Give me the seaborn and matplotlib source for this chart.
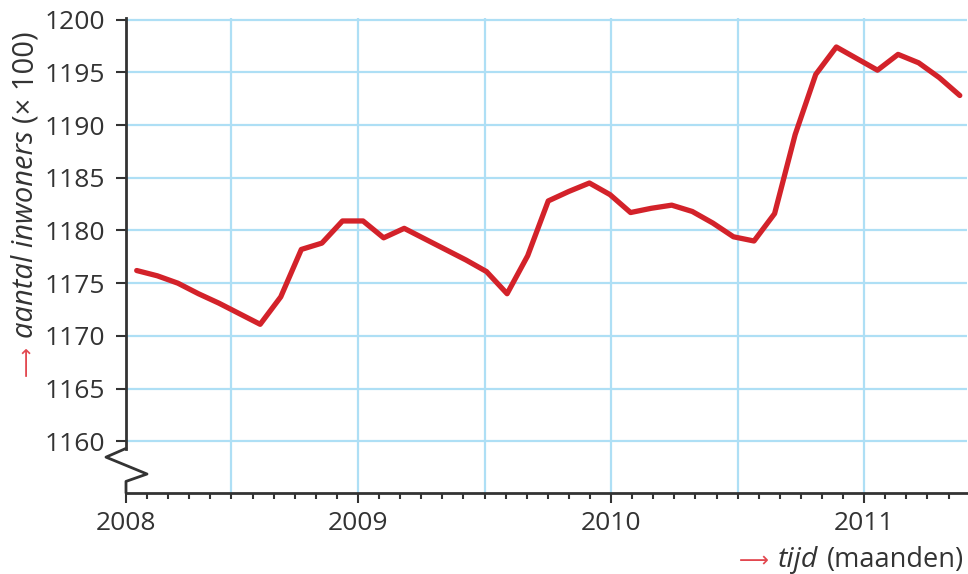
import numpy as np
import pandas as pd
import matplotlib
matplotlib.use("Agg")
import matplotlib.pyplot as plt
import matplotlib.transforms as mtransforms
import seaborn as sns

# -----------------------------
# DATA  (aantal inwoners x 100, per maand jan 2008 - mei 2011)
# -----------------------------
maand = np.arange(41)
inwoners = [1176.2, 1175.7, 1175.0, 1174.0, 1173.1, 1172.1, 1171.1, 1173.7, 1178.2, 1178.8,
            1180.9, 1180.9, 1179.3, 1180.2, 1179.2, 1178.2, 1177.2, 1176.1, 1174.0, 1177.6,
            1182.8, 1183.7, 1184.5, 1183.4, 1181.7, 1182.1, 1182.4, 1181.8, 1180.7, 1179.4,
            1179.0, 1181.6, 1189.1, 1194.8, 1197.4, 1196.3, 1195.2, 1196.7, 1195.9, 1194.5,
            1192.8]
jaren = ["2008", "2009", "2010", "2011"]
y_ticks = [1160, 1165, 1170, 1175, 1180, 1185, 1190, 1195, 1200]

df = pd.DataFrame({"maand": maand, "inwoners": inwoners})

# printed month ticks run a little wider than the data spacing
tick_x0 = -0.52
tick_step = 1.025
month_ticks = tick_x0 + tick_step * np.arange(40)
year_ticks = month_ticks[[0, 11, 23, 35]]
grid_x = month_ticks[[5, 11, 17, 23, 29, 35]]

# -----------------------------
# STYLE
# -----------------------------
sns.set_theme(style="white")
plt.rcParams['font.family'] = ['Open Sans', 'DejaVu Sans']

tekst_kleur = "#333333"
as_kleur = "#333333"
grid_kleur = "#aedff5"
lijn_kleur = "#d3222a"
pijl_kleur = "#e2474f"
fs = 19

fig = plt.figure(figsize=(9.68, 5.74), dpi=100)
ax = fig.add_axes([126 / 968, 81 / 574, 841 / 968, 475 / 574])

# gridlines
ax.set_yticks(y_ticks)
ax.yaxis.grid(True, color=grid_kleur, linewidth=1.6, zorder=0)
for gx in grid_x:
    ax.axvline(gx, color=grid_kleur, linewidth=1.6, zorder=0)

# line
sns.lineplot(data=df, x="maand", y="inwoners", color=lijn_kleur, linewidth=3.8, ax=ax, zorder=3)

ax.set_xlim(tick_x0, 40.35)
ax.set_ylim(1155.1, 1200.15)

ax.set_xticks(year_ticks)
ax.set_xticklabels(jaren)
ax.set_xticks(month_ticks, minor=True)
ax.set_xlabel("")
ax.set_ylabel("")

ax.tick_params(axis='y', which='major', direction='out', length=7, width=1.5, pad=8,
               color=as_kleur, labelcolor=tekst_kleur, labelsize=fs, left=True)
ax.tick_params(axis='x', which='major', direction='out', length=7, width=1.5, pad=6,
               color=as_kleur, labelcolor=tekst_kleur, labelsize=fs, bottom=True)
ax.tick_params(axis='x', which='minor', direction='out', length=4.5, width=1.5,
               color=as_kleur, bottom=True)

for s in ['top', 'right']:
    ax.spines[s].set_visible(False)
for s in ['left', 'bottom']:
    ax.spines[s].set_color(as_kleur)
    ax.spines[s].set_linewidth(2)
ax.spines['left'].set_bounds(1159.3, 1200.15)

# axis break (zigzag)
trans = mtransforms.blended_transform_factory(ax.transAxes, ax.transData)
ax.plot([0, -0.0238, 0.025, 0, 0], [1159.33, 1158.5, 1156.9, 1156.2, 1155.1],
        color=as_kleur, linewidth=2, transform=trans, clip_on=False, zorder=4)

# -----------------------------
# AXIS LABELS (pieces in different styles)
# -----------------------------
fig.canvas.draw()
renderer = fig.canvas.get_renderer()
pix = mtransforms.IdentityTransform()

# y label, reading bottom to top
y_delen = [("\u27f6", dict(color=pijl_kleur, family=['DejaVu Sans'], fontsize=15)),
           ("aantal inwoners", dict(color=tekst_kleur, style='italic', fontsize=21)),
           ("(\u00d7 100)", dict(color=tekst_kleur, fontsize=21))]
pos = 574 - 376
for s, opts in y_delen:
    t = fig.text(33, pos, s, rotation=90, rotation_mode='anchor', ha='left', va='baseline',
                 transform=pix, **opts)
    bb = t.get_window_extent(renderer)
    pos = bb.y1 + 8

# x label, right aligned
x_delen = [("\u27f6", dict(color=pijl_kleur, family=['DejaVu Sans'], fontsize=15)),
           ("tijd", dict(color=tekst_kleur, style='italic', fontsize=20.5)),
           ("(maanden)", dict(color=tekst_kleur, fontsize=19.5))]
pos = 964
for s, opts in reversed(x_delen):
    t = fig.text(pos, 7, s, ha='right', va='baseline', transform=pix, **opts)
    bb = t.get_window_extent(renderer)
    pos = bb.x0 - 9

fig.savefig("out.png", dpi=100)
